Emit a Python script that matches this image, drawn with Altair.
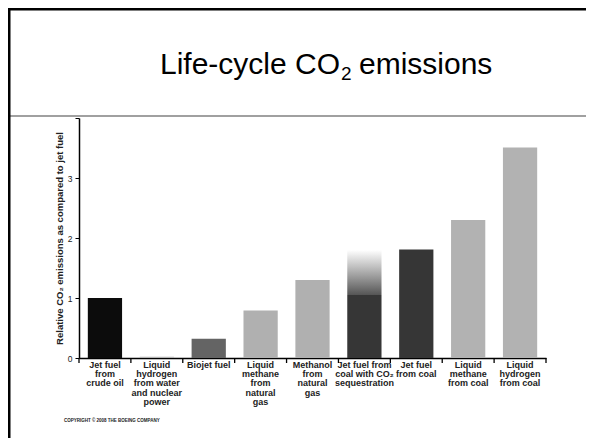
import altair as alt
import pandas as pd

categories = [
    "Jet fuel|from|crude oil",
    "Liquid|hydrogen|from water|and nuclear|power",
    "Biojet fuel",
    "Liquid|methane|from|natural|gas",
    "Methanol|from|natural|gas",
    "Jet fuel from|coal with CO₂|sequestration",
    "Jet fuel|from coal",
    "Liquid|methane|from coal",
    "Liquid|hydrogen|from coal",
]
values = [1.0, 0.02, 0.32, 0.79, 1.3, 1.05, 1.81, 2.3, 3.51]
bar_colors = ["#0c0c0c", "#b4b4b4", "#646464", "#b0b0b0", "#b0b0b0",
              "#363636", "#363636", "#b2b2b2", "#b2b2b2"]
# uncertainty range shown as fading gradient above the CO2-sequestration bar
range_cat = [categories[5]]
range_low = [1.05]
range_high = [1.8]
y_ticks = [0, 1, 2, 3, 4]

FONT = "Liberation Sans"

df = pd.DataFrame({"cat": categories, "val": values})
df_range = pd.DataFrame({"cat": range_cat, "lo": range_low, "hi": range_high})
df_last = pd.DataFrame({"cat": [categories[-1]]})
one = pd.DataFrame({"a": [0]})

xscale = alt.Scale(domain=categories, paddingInner=0, paddingOuter=0)
x_enc = alt.X(
    "cat:N", sort=categories, scale=xscale,
    axis=alt.Axis(
        title=None, labelAngle=0, ticks=False, domainColor="#000000",
        domainWidth=1.5, labelExpr="split(datum.label, '|')",
        labelFont=FONT, labelFontSize=9, labelFontWeight="bold",
        labelLineHeight=9.4, labelPadding=2, labelBaseline="top",
        labelLimit=0, labelColor="#222222",
    ),
)
y_enc = alt.Y(
    "val:Q", scale=alt.Scale(domain=[0, 4], nice=False),
    axis=alt.Axis(
        values=y_ticks, format="d",
        title="Relative CO₂ emissions as compared to jet fuel",
        titleFont=FONT, titleFontSize=9.5, titleFontWeight="bold",
        titleColor="#222222", titlePadding=3,
        labelExpr="datum.value == 4 ? '' : datum.label",
        labelFont=FONT, labelFontSize=8.5, labelColor="#222222", labelPadding=3,
        tickSize=4, tickColor="#000000", domainColor="#000000", domainWidth=1.5,
        grid=False,
    ),
)

bars = alt.Chart(df).mark_bar(width=alt.RelativeBandSize(0.66)).encode(
    x=x_enc, y=y_enc,
    color=alt.Color("cat:N", scale=alt.Scale(domain=categories, range=bar_colors), legend=None),
)

grad = alt.Chart(df_range).mark_bar(
    width=alt.RelativeBandSize(0.66),
    color=alt.Gradient(
        gradient="linear",
        stops=[alt.GradientStop(color="#ffffff", offset=0),
               alt.GradientStop(color="#9a9a9a", offset=0.6),
               alt.GradientStop(color="#555555", offset=1)],
        x1=0, x2=0, y1=0, y2=1,
    ),
).encode(x=alt.X("cat:N", sort=categories), y="lo:Q", y2="hi:Q")

ticks = alt.Chart(df).mark_rule(color="#000000", strokeWidth=1.3).encode(
    x=alt.X("cat:N", sort=categories, bandPosition=0),
    y=alt.value(240), y2=alt.value(245),
)
tick_last = alt.Chart(df_last).mark_rule(color="#000000", strokeWidth=1.3).encode(
    x=alt.X("cat:N", sort=categories, bandPosition=1),
    y=alt.value(240), y2=alt.value(245),
)

top_line = alt.Chart(one).mark_rule(color="#000000", strokeWidth=3).encode(
    x=alt.value(-71), x2=alt.value(520), y=alt.value(-109))
left_line = alt.Chart(one).mark_rule(color="#000000", strokeWidth=3).encode(
    x=alt.value(-70), y=alt.value(-110), y2=alt.value(330))
gray_line = alt.Chart(one).mark_rule(color="#808080", strokeWidth=1.5).encode(
    x=alt.value(-71), x2=alt.value(520), y=alt.value(-2))

title_a = alt.Chart(one).mark_text(font=FONT, fontSize=30, align="right",
                                    baseline="alphabetic", color="#000000").encode(
    x=alt.value(261), y=alt.value(-44), text=alt.value("Life-cycle CO"))
title_b = alt.Chart(one).mark_text(font=FONT, fontSize=19, align="left",
                                    baseline="alphabetic", color="#000000").encode(
    x=alt.value(262), y=alt.value(-38), text=alt.value("2"))
title_c = alt.Chart(one).mark_text(font=FONT, fontSize=30, align="left",
                                    baseline="alphabetic", color="#000000").encode(
    x=alt.value(280), y=alt.value(-44), text=alt.value("emissions"))

copyright_txt = alt.Chart(one).mark_text(font=FONT, fontSize=4.5, fontWeight="bold",
                                          align="left", baseline="middle",
                                          color="#222222").encode(
    x=alt.value(-15), y=alt.value(303),
    text=alt.value("COPYRIGHT © 2008 THE BOEING COMPANY"))

chart = alt.layer(
    bars, grad, ticks, tick_last, gray_line, top_line, left_line,
    title_a, title_b, title_c, copyright_txt,
).properties(
    width=467, height=240,
    padding={"left": 71, "top": 110, "right": 40, "bottom": 80},
    autosize=alt.AutoSizeParams(type="none"),
    background="#ffffff",
).configure_view(stroke=None)

chart.save("out.html", embed_options={"renderer": "svg", "actions": False})
